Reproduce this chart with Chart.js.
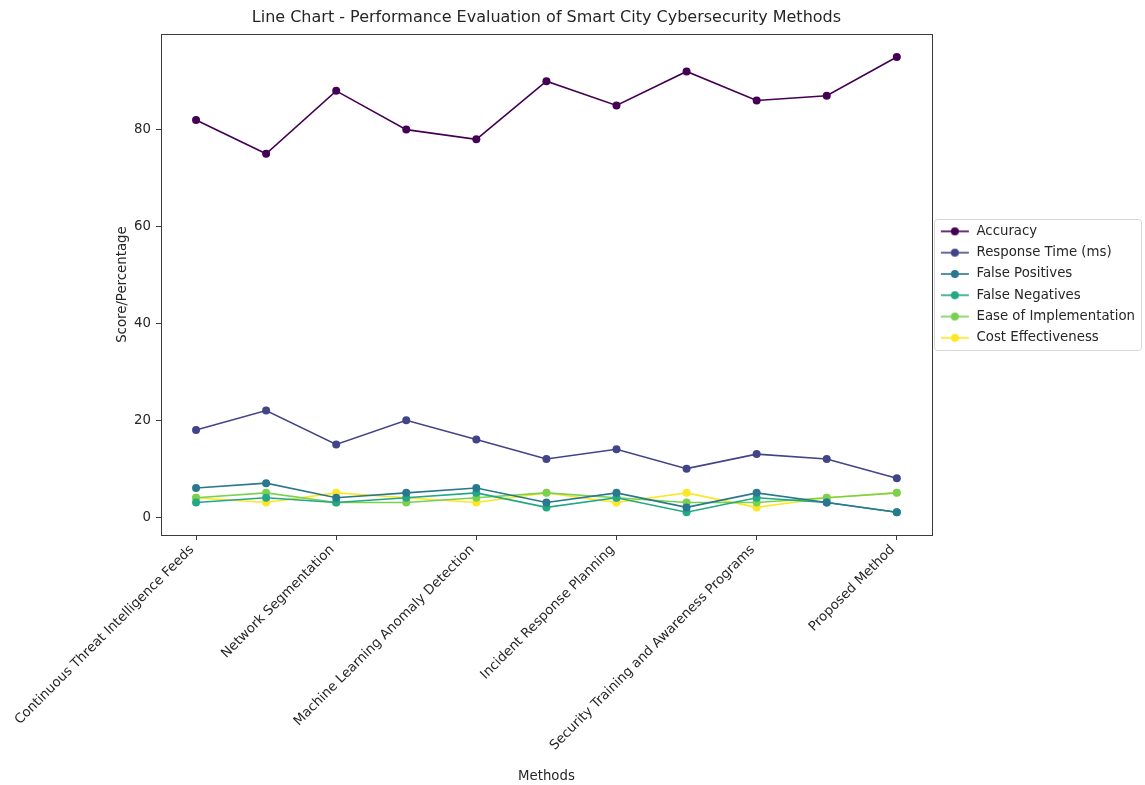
<!DOCTYPE html>
<html>
<head>
<meta charset="utf-8">
<script src="https://cdn.jsdelivr.net/npm/chart.js@4.4.1/dist/chart.umd.min.js"></script>
<style>
  html, body { margin: 0; padding: 0; background: #ffffff; }
  #wrap { width: 1145px; height: 785px; position: relative; }
</style>
</head>
<body>
<div id="wrap"><canvas id="chart" width="1145" height="785"></canvas></div>
<script>
// Methods compared along the x axis (every other name is labelled)
const methods = [
  'Continuous Threat Intelligence Feeds',
  'Intrusion Detection Systems',
  'Network Segmentation',
  'Data Encryption',
  'Machine Learning Anomaly Detection',
  'Access Control Management',
  'Incident Response Planning',
  'Blockchain-Based Security',
  'Security Training and Awareness Programs',
  'Zero Trust Architecture',
  'Proposed Method'
];

// Metric values per method
const accuracy        = [82, 75, 88, 80, 78, 90, 85, 92, 86, 87, 95];
const responseTime    = [18, 22, 15, 20, 16, 12, 14, 10, 13, 12, 8];
const falsePositives  = [6, 7, 4, 5, 6, 3, 5, 2, 5, 3, 1];
const falseNegatives  = [3, 4, 3, 4, 5, 2, 4, 1, 4, 3, 1];
const easeOfImpl      = [4, 5, 3, 3, 4, 5, 4, 3, 3, 4, 5];
const costEffect      = [4, 3, 5, 4, 3, 5, 3, 5, 2, 4, 5];

const seriesNames = ['Accuracy', 'Response Time (ms)', 'False Positives',
                     'False Negatives', 'Ease of Implementation', 'Cost Effectiveness'];
const seriesValues = [accuracy, responseTime, falsePositives, falseNegatives, easeOfImpl, costEffect];

// y axis ticks and limits
const yTicks = [0, 20, 40, 60, 80];
const yMin = -3.7;
const yMax = 99.7;

// viridis palette, six evenly spaced stops
const palette = ['#440154', '#414487', '#2a788e', '#22a884', '#7ad151', '#fde725'];

const FONT = 'DejaVu Sans';
const TEXT = '#262626';
const FS = 13.3;

// legend handle: short line with a dot in the middle
function makeHandle(color) {
  const c = document.createElement('canvas');
  c.width = 30; c.height = 12;
  const g = c.getContext('2d');
  g.strokeStyle = color; g.lineWidth = 1.6;
  g.beginPath(); g.moveTo(1, 6); g.lineTo(29, 6); g.stroke();
  g.fillStyle = color;
  g.beginPath(); g.arc(15, 6, 4, 0, Math.PI * 2); g.fill();
  return c;
}

const datasets = seriesNames.map((name, i) => ({
  label: name,
  data: seriesValues[i],
  borderColor: palette[i],
  backgroundColor: palette[i],
  borderWidth: 1.6,
  pointRadius: 4,
  pointHoverRadius: 4,
  pointBorderWidth: 0,
  pointStyle: 'circle',
  tension: 0,
  fill: false
}));

function roundRect(ctx, x, y, w, h, r) {
  ctx.beginPath();
  ctx.moveTo(x + r, y);
  ctx.lineTo(x + w - r, y);
  ctx.arcTo(x + w, y, x + w, y + r, r);
  ctx.lineTo(x + w, y + h - r);
  ctx.arcTo(x + w, y + h, x + w - r, y + h, r);
  ctx.lineTo(x + r, y + h);
  ctx.arcTo(x, y + h, x, y + h - r, r);
  ctx.lineTo(x, y + r);
  ctx.arcTo(x, y, x + r, y, r);
  ctx.closePath();
}

// frame round the plot area and a rounded box round the legend entries
const framePlugin = {
  id: 'frame',
  beforeDraw(chart) {
    const L = chart.legend;
    if (!L || !L.legendHitBoxes || !L.legendHitBoxes.length) return;
    const hb = L.legendHitBoxes;
    let minX = Infinity, maxX = -Infinity, minY = Infinity, maxY = -Infinity;
    hb.forEach(b => {
      minX = Math.min(minX, b.left); maxX = Math.max(maxX, b.left + b.width);
      minY = Math.min(minY, b.top); maxY = Math.max(maxY, b.top + b.height);
    });
    const ctx = chart.ctx;
    ctx.save();
    ctx.strokeStyle = '#d6d6d6';
    ctx.lineWidth = 1;
    ctx.fillStyle = '#ffffff';
    roundRect(ctx, Math.round(minX - 6) + 0.5, Math.round(minY - 6) + 0.5,
              Math.round(maxX - minX + 12), Math.round(maxY - minY + 11), 3);
    ctx.fill();
    ctx.stroke();
    ctx.restore();
  },
  afterDraw(chart) {
    const { ctx, chartArea: a } = chart;
    ctx.save();
    ctx.strokeStyle = '#3a3a3a';
    ctx.lineWidth = 1;
    ctx.strokeRect(Math.round(a.left) + 0.5, Math.round(a.top) + 0.5,
                   Math.round(a.right - a.left), Math.round(a.bottom - a.top));
    ctx.restore();
  }
};

new Chart(document.getElementById('chart'), {
  type: 'line',
  data: { labels: methods, datasets },
  plugins: [framePlugin],
  options: {
    responsive: false,
    animation: false,
    devicePixelRatio: 1,
    layout: { padding: { top: 0, right: 0, bottom: 0, left: 0 } },
    plugins: {
      title: {
        display: true,
        fullSize: false,
        text: 'Line Chart - Performance Evaluation of Smart City Cybersecurity Methods',
        color: TEXT,
        font: { family: FONT, size: 16, weight: 'normal' },
        padding: { top: 8, bottom: 7 }
      },
      legend: {
        position: 'right',
        fullSize: false,
        align: 'center',
        labels: {
          color: TEXT,
          font: { family: FONT, size: FS },
          usePointStyle: true,
          pointStyleWidth: 30,
          boxWidth: 30,
          boxHeight: 12,
          padding: 8,
          generateLabels(chart) {
            return chart.data.datasets.map((d, i) => ({
              text: d.label,
              pointStyle: makeHandle(palette[i]),
              fillStyle: palette[i],
              strokeStyle: palette[i],
              lineWidth: 0,
              fontColor: TEXT,
              hidden: false,
              datasetIndex: i
            }));
          }
        }
      },
      tooltip: { enabled: false }
    },
    scales: {
      x: {
        type: 'category',
        offset: true,
        afterFit(scale) { scale.height = 250; },
        grid: {
          display: true,
          drawOnChartArea: false,
          drawTicks: true,
          tickLength: 5,
          color: '#3a3a3a'
        },
        border: { display: false },
        ticks: {
          autoSkip: false,
          maxRotation: 45,
          minRotation: 45,
          labelOffset: -4,
          color: TEXT,
          font: { family: FONT, size: FS },
          padding: 2,
          callback(value, index) {
            return index % 2 === 0 ? this.getLabelForValue(value) : null;
          }
        },
        title: {
          display: true,
          text: 'Methods',
          color: TEXT,
          font: { family: FONT, size: FS },
          padding: { top: 0, bottom: 0 }
        }
      },
      y: {
        min: yMin,
        max: yMax,
        afterBuildTicks(scale) {
          scale.ticks = yTicks.map(v => ({ value: v }));
        },
        afterFit(scale) { scale.width = 161; },
        grid: {
          display: true,
          drawOnChartArea: false,
          drawTicks: true,
          tickLength: 5,
          color: '#3a3a3a'
        },
        border: { display: false },
        ticks: {
          color: TEXT,
          font: { family: FONT, size: FS },
          padding: 5
        },
        title: {
          display: true,
          text: 'Score/Percentage',
          color: TEXT,
          font: { family: FONT, size: FS },
          padding: { top: 115, bottom: 0 }
        }
      }
    }
  }
});
</script>
</body>
</html>
